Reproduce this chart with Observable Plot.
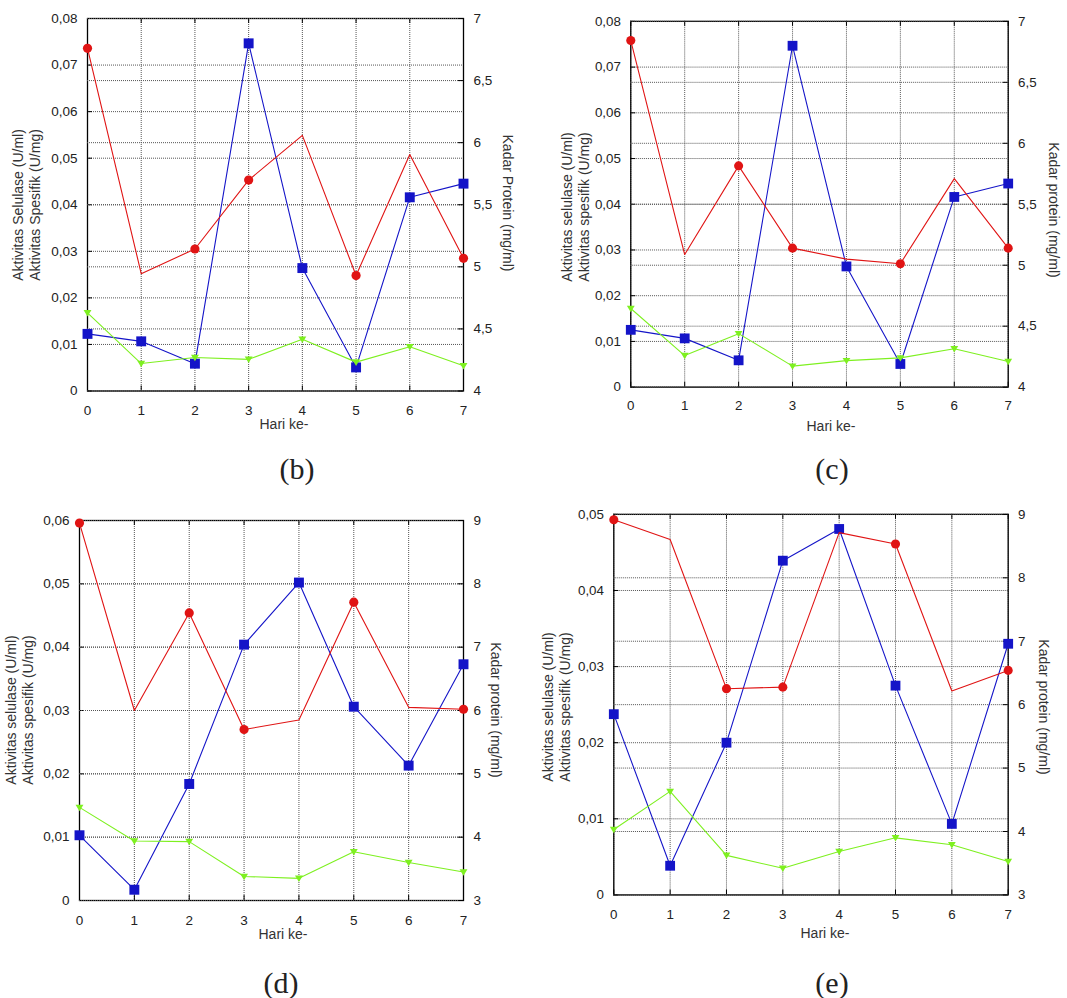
<!DOCTYPE html>
<html><head><meta charset="utf-8">
<script src="https://cdn.jsdelivr.net/npm/d3@7"></script>
<script src="https://cdn.jsdelivr.net/npm/@observablehq/plot@0.6"></script>
<style>
body{margin:0;background:#fff;}
#root{position:relative;width:1067px;height:998px;overflow:hidden;font-family:"Liberation Sans",Arial,sans-serif;color:#222;}
.layer{position:absolute;}
.rot{position:absolute;white-space:nowrap;text-align:center;font-size:14px;line-height:17px;color:#333;}
.xl{position:absolute;white-space:nowrap;font-size:14px;color:#333;transform:translate(-50%,-50%);}
.cap{position:absolute;white-space:nowrap;font-family:"Liberation Serif","Times New Roman",serif;font-size:30px;color:#222;transform:translate(-50%,-50%);}
</style></head><body><div id="root"></div>
<script>
// ---- data ----
const days = [0, 1, 2, 3, 4, 5, 6, 7];
const redMarkedDays = [0, 2, 3, 5, 7];

// panel (b)
const actB  = [0.0736, 0.0252, 0.0305, 0.0453, 0.0549, 0.0248, 0.0508, 0.0285];
const protB = [4.46, 4.40, 4.22, 6.80, 4.99, 4.19, 5.56, 5.67];
const specB = [0.0168, 0.0059, 0.0072, 0.0068, 0.0111, 0.0062, 0.0095, 0.0054];
const leftTicksB  = [0, 0.01, 0.02, 0.03, 0.04, 0.05, 0.06, 0.07, 0.08];
const rightTicksB = [4, 4.5, 5, 5.5, 6, 6.5, 7];

// panel (c)
const actC  = [0.0758, 0.0290, 0.0484, 0.0304, 0.0280, 0.0270, 0.0456, 0.0304];
const protC = [4.47, 4.40, 4.22, 6.80, 4.99, 4.19, 5.56, 5.67];
const specC = [0.0172, 0.0069, 0.0117, 0.0046, 0.0058, 0.0064, 0.0084, 0.0056];
const leftTicksC  = [0, 0.01, 0.02, 0.03, 0.04, 0.05, 0.06, 0.07, 0.08];
const rightTicksC = [4, 4.5, 5, 5.5, 6, 6.5, 7];

// panel (d)
const actD  = [0.0596, 0.0300, 0.0454, 0.0270, 0.0285, 0.0471, 0.0305, 0.0302];
const protD = [4.03, 3.17, 4.84, 7.04, 8.02, 6.06, 5.13, 6.73];
const specD = [0.0147, 0.0094, 0.0093, 0.0038, 0.0035, 0.0077, 0.0060, 0.0045];
const leftTicksD  = [0, 0.01, 0.02, 0.03, 0.04, 0.05, 0.06];
const rightTicksD = [3, 4, 5, 6, 7, 8, 9];

// panel (e)
const actE  = [0.0493, 0.0467, 0.0271, 0.0273, 0.0476, 0.0461, 0.0268, 0.0295];
const protE = [5.85, 3.46, 5.40, 8.27, 8.77, 6.30, 4.12, 6.96];
const specE = [0.0086, 0.0136, 0.0052, 0.0035, 0.0057, 0.0075, 0.0066, 0.0044];
const leftTicksE  = [0, 0.01, 0.02, 0.03, 0.04, 0.05];
const rightTicksE = [3, 4, 5, 6, 7, 8, 9];

const xLabel = "Hari ke-";
const titlesUpper = ["Aktivitas Selulase (U/ml)", "Aktivitas Spesifik (U/mg)", "Kadar Protein (mg/ml)"];
const titlesLower = ["Aktivitas selulase (U/ml)", "Aktivitas spesifik (U/mg)", "Kadar protein (mg/ml)"];

// ---- colours / styles ----
const RED = "#e01414", BLUE = "#1414c8", GREEN = "#7ef020", GRID = "#555";
const FONT = '"Liberation Sans", Arial, sans-serif';

const triDown = {
  draw(ctx, size) {
    const s = Math.sqrt(size) * 0.62;
    ctx.moveTo(-s, -s * 0.7);
    ctx.lineTo(s, -s * 0.7);
    ctx.lineTo(0, s * 0.95);
    ctx.closePath();
  }
};

const fmtL = v => v === 0 ? "0" : v.toFixed(2).replace(".", ",");
const fmtR = v => String(v).replace(".", ",");

const panels = [
  {name: "(b)", act: actB, prot: protB, spec: specB, lt: leftTicksB, rt: rightTicksB, titles: titlesUpper,
   L: 87, R: 463, T: 17.5, B: 390, pad: 14, lt1: [27, 205], rt1: [507, 203], xl: [284, 424], cap: [297, 469]},
  {name: "(c)", act: actC, prot: protC, spec: specC, lt: leftTicksC, rt: rightTicksC, titles: titlesLower,
   L: 631, R: 1013, T: 20.5, B: 390.7, pad: 14, lt1: [576, 207], rt1: [1053, 210], xl: [831, 426], cap: [832, 469]},
  {name: "(d)", act: actD, prot: protD, spec: specD, lt: leftTicksD, rt: rightTicksD, titles: titlesLower,
   L: 79, R: 463, T: 520, B: 900, pad: 15, lt1: [20, 710], rt1: [495, 710], xl: [283, 934], cap: [281, 983]},
  {name: "(e)", act: actE, prot: protE, spec: specE, lt: leftTicksE, rt: rightTicksE, titles: titlesLower,
   L: 614, R: 1013, T: 514, B: 899, pad: 15, lt1: [557, 707], rt1: [1043, 707], xl: [825, 933], cap: [832, 983]}
];

const root = document.getElementById("root");
const ML = 60, MR = 60, MT = 10, MB = 40;

function place(svg, p) {
  const wrap = document.createElement("div");
  wrap.className = "layer";
  wrap.style.left = (p.L - ML) + "px";
  wrap.style.top = (p.T - MT) + "px";
  wrap.appendChild(svg);
  root.appendChild(wrap);
}

function addDiv(cls, text, x, y, transform) {
  const d = document.createElement("div");
  d.className = cls;
  d.innerHTML = text;
  d.style.left = x + "px";
  d.style.top = y + "px";
  if (transform) d.style.transform = transform;
  root.appendChild(d);
}

for (const p of panels) {
  const W = p.R - p.L, H = p.B - p.T;
  const yL = [p.lt[0], p.lt[p.lt.length - 1]];
  const yR = [p.rt[0], p.rt[p.rt.length - 1]];
  const tk = 5; // inward tick length (px)
  const base = {
    width: W + ML + MR, height: H + MT + MB,
    marginLeft: ML, marginRight: MR, marginTop: MT, marginBottom: MB,
    style: {fontFamily: FONT, fontSize: "13.5px", color: "#222", background: "transparent", overflow: "visible"}
  };
  const rows = days.map((d, i) => ({day: d, act: p.act[i], prot: p.prot[i], spec: p.spec[i]}));
  const redPts = rows.filter(r => redMarkedDays.includes(r.day));
  const dx = tk / W * (days[days.length - 1] - days[0]);
  const dyL = tk / H * (yL[1] - yL[0]);

  // layer 1: grid, frame, x axis and left axis
  const grid = Plot.plot({
    ...base,
    x: {domain: [days[0], days[days.length - 1]], ticks: days, tickSize: 0, tickPadding: p.pad, tickFormat: d => String(d), label: null},
    y: {domain: yL, ticks: p.lt, tickSize: 0, tickPadding: 10, tickFormat: fmtL, label: null},
    marks: [
      Plot.ruleX(days, {stroke: GRID, strokeDasharray: "1,1", strokeWidth: 1}),
      Plot.ruleY(p.lt, {stroke: GRID, strokeDasharray: "1,1", strokeWidth: 1}),
      Plot.ruleX(days, {y1: yL[0], y2: yL[0] + dyL, stroke: "#000"}),
      Plot.ruleX(days, {y1: yL[1] - dyL, y2: yL[1], stroke: "#000"}),
      Plot.ruleY(p.lt, {x1: days[0], x2: days[0] + dx, stroke: "#000"}),
      Plot.frame({stroke: "#000", strokeWidth: 1.3})
    ]
  });
  place(grid, p);

  // layer 2: right axis (protein) and blue series
  const prot = Plot.plot({
    ...base,
    x: {domain: [days[0], days[days.length - 1]], axis: null},
    y: {domain: yR, axis: "right", ticks: p.rt, tickSize: 0, tickPadding: 10, tickFormat: fmtR, label: null},
    marks: [
      Plot.ruleY(p.rt, {stroke: GRID, strokeDasharray: "1,1", strokeWidth: 1}),
      Plot.ruleY(p.rt, {x1: days[days.length - 1] - dx, x2: days[days.length - 1], stroke: "#000"}),
      Plot.line(rows, {x: "day", y: "prot", stroke: BLUE, strokeWidth: 1.1}),
      Plot.dot(rows, {x: "day", y: "prot", symbol: "square", r: 5.6, fill: BLUE, stroke: "none"})
    ]
  });
  place(prot, p);

  // layer 3: red (activity) and green (specific activity)
  const act = Plot.plot({
    ...base,
    x: {domain: [days[0], days[days.length - 1]], axis: null},
    y: {domain: yL, axis: null},
    marks: [
      Plot.line(rows, {x: "day", y: "act", stroke: RED, strokeWidth: 1.1}),
      Plot.dot(redPts, {x: "day", y: "act", r: 4.6, fill: RED, stroke: "none"}),
      Plot.line(rows, {x: "day", y: "spec", stroke: GREEN, strokeWidth: 1.1}),
      Plot.dot(rows, {x: "day", y: "spec", symbol: triDown, r: 3.6, fill: GREEN, stroke: "none"})
    ]
  });
  place(act, p);

  addDiv("rot", p.titles[0] + "<br>" + p.titles[1], p.lt1[0], p.lt1[1], "translate(-50%,-50%) rotate(-90deg)");
  addDiv("rot", p.titles[2], p.rt1[0], p.rt1[1], "translate(-50%,-50%) rotate(90deg)");
  addDiv("xl", xLabel, p.xl[0], p.xl[1]);
  addDiv("cap", p.name, p.cap[0], p.cap[1]);
}
</script>
</body></html>
